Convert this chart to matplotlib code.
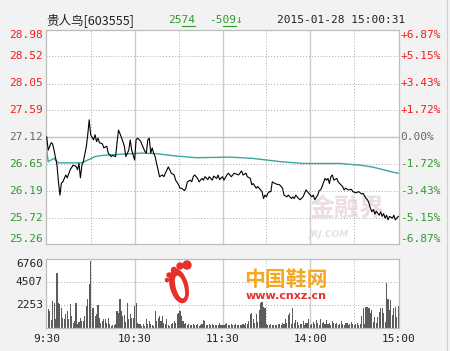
import matplotlib.pyplot as plt
from matplotlib.lines import Line2D
from matplotlib.patches import Ellipse, Circle

# intraday data, minute index 0 = 9:30, 120 = 11:30/13:00, 240 = 15:00
price_t = [0, 1, 3, 4, 5, 7, 8, 9, 10, 11, 13, 14, 16, 18, 20, 21, 22, 23, 24, 25,
           27, 28, 29, 30, 32, 33, 34, 35, 36, 38, 39, 41, 42, 44, 45, 47, 48, 49, 50, 52,
           53, 54, 56, 57, 58, 60, 61, 62, 64, 66, 67, 68, 69, 70, 71, 72, 73, 74, 75, 76,
           77, 79, 80, 81, 83, 84, 85, 87, 88, 90, 91, 92, 94, 95, 96, 98, 99, 100, 101, 103,
           104, 106, 107, 108, 110, 111, 113, 114, 116, 117, 118, 120, 121, 123, 124, 126, 128, 131, 133, 134,
           136, 137, 139, 140, 141, 143, 144, 146, 147, 148, 149, 150, 151, 152, 153, 154, 156, 157, 159, 161,
           162, 164, 165, 167, 168, 169, 170, 172, 173, 175, 177, 178, 180, 181, 182, 183, 185, 186, 187, 188,
           190, 191, 192, 193, 194, 195, 196, 198, 199, 200, 202, 203, 204, 206, 208, 209, 211, 213, 215, 216,
           218, 219, 220, 221, 222, 223, 224, 225, 227, 228, 229, 230, 231, 232, 233, 234, 236, 237, 238, 239,
           240]
price = [27.12, 26.89, 27.02, 27.00, 26.89, 26.63, 26.34, 26.11, 26.32, 26.34, 26.46, 26.41, 26.55, 26.63, 26.61, 26.55, 26.66, 26.41, 26.63, 26.69,
         26.95, 27.16, 27.42, 27.16, 27.07, 27.16, 27.04, 27.10, 27.02, 27.00, 26.93, 26.96, 26.84, 26.78, 26.80, 26.78, 27.02, 27.24, 27.18, 27.04,
         26.96, 26.78, 26.89, 27.07, 26.89, 26.72, 27.07, 27.10, 27.05, 26.93, 26.87, 26.84, 27.07, 27.10, 26.84, 26.93, 26.84, 26.78, 26.66, 26.55,
         26.43, 26.46, 26.43, 26.49, 26.60, 26.55, 26.49, 26.46, 26.37, 26.29, 26.23, 26.23, 26.19, 26.23, 26.34, 26.37, 26.34, 26.43, 26.46, 26.40,
         26.34, 26.40, 26.37, 26.43, 26.38, 26.43, 26.37, 26.44, 26.40, 26.46, 26.38, 26.43, 26.37, 26.46, 26.49, 26.43, 26.49, 26.46, 26.53, 26.46,
         26.49, 26.43, 26.40, 26.29, 26.31, 26.23, 26.26, 26.20, 26.17, 26.05, 26.11, 26.08, 26.14, 26.17, 26.17, 26.34, 26.31, 26.30, 26.29, 26.23,
         26.11, 26.08, 26.11, 26.05, 26.08, 26.05, 26.11, 26.05, 26.03, 26.08, 26.20, 26.17, 26.11, 26.08, 26.11, 26.03, 26.11, 26.19, 26.20, 26.26,
         26.40, 26.37, 26.40, 26.31, 26.43, 26.46, 26.37, 26.40, 26.34, 26.31, 26.26, 26.20, 26.23, 26.20, 26.21, 26.17, 26.15, 26.17, 26.13, 26.14,
         26.05, 26.03, 25.97, 25.88, 25.82, 25.86, 25.78, 25.83, 25.76, 25.82, 25.74, 25.79, 25.71, 25.76, 25.68, 25.74, 25.71, 25.76, 25.68, 25.71,
         25.74]

avg_t = [0, 1, 5, 8, 24, 28, 33, 38, 50, 65, 75, 88, 102, 125, 140, 150, 160, 175, 200, 214, 222, 230, 236, 240]
avg = [26.89, 26.69, 26.75, 26.67, 26.67, 26.72, 26.78, 26.80, 26.82, 26.84, 26.83, 26.79, 26.76, 26.77, 26.75, 26.72,
       26.69, 26.66, 26.66, 26.63, 26.60, 26.55, 26.51, 26.49]

volume = [3790, 1890, 1670, 800, 2650, 2480, 900, 5420, 2480, 2320,
          1990, 1010, 850, 1340, 1670, 850, 2320, 1180, 520, 690,
          2480, 360, 590, 1010, 690, 690, 1180, 2160, 2870, 4280,
          6560, 1990, 1990, 1180, 1340, 2220, 1010, 520, 690, 850,
          850, 520, 1010, 360, 200, 260, 300, 360, 1670, 1500,
          2870, 1670, 1180, 1240, 600, 2420, 850, 1340, 1010, 1010,
          2160, 2480, 460, 360, 360, 200, 360, 200, 850, 360,
          690, 360, 300, 200, 1670, 690, 1010, 1180, 690, 1180,
          520, 360, 850, 300, 200, 360, 500, 690, 520, 1340,
          1500, 1670, 1180, 690, 360, 520, 300, 360, 250, 300,
          420, 260, 300, 350, 240, 300, 380, 780, 690, 300,
          250, 350, 280, 400, 300, 250, 330, 280, 450, 300,
          260, 300, 360, 520, 300, 280, 350, 300, 260, 380,
          300, 250, 330, 280, 420, 300, 450, 360, 690, 1340,
          1500, 850, 520, 1340, 600, 1760, 2420, 2580, 2090, 1990,
          360, 300, 280, 360, 250, 330, 300, 280, 360, 420,
          300, 520, 360, 850, 450, 1270, 1440, 360, 1930, 520,
          780, 620, 300, 420, 380, 690, 300, 520, 450, 850,
          300, 420, 620, 360, 780, 450, 300, 850, 520, 600,
          420, 780, 360, 520, 300, 690, 450, 380, 520, 300,
          420, 690, 360, 300, 520, 450, 300, 380, 600, 360,
          300, 420, 520, 300, 420, 1180, 1930, 360, 2020, 2090,
          1930, 1440, 1760, 600, 1050, 520, 1050, 1600, 1930, 1930,
          1440, 600, 4380, 2810, 1760, 2740, 1270, 1930, 2090, 1050,
          2160]

prev_close = 27.12
price_ticks = [28.98, 28.52, 28.05, 27.59, 27.12, 26.65, 26.19, 25.72, 25.26]
pct_labels = ["+6.87%", "+5.15%", "+3.43%", "+1.72%", "0.00%", "-1.72%", "-3.43%", "-5.15%", "-6.87%"]
vol_ticks = [6760, 4507, 2253]
time_pos = [0, 60, 120, 180, 240]
time_labels = ["9:30", "10:30", "11:30", "14:00", "15:00"]

RED = "#f41c1c"
GREEN = "#2f9a2f"
GRAY = "#666666"
MONO = "DejaVu Sans Mono"

fig = plt.figure(figsize=(4.5, 3.51), dpi=100, facecolor="#f2f2f2")
ax = fig.add_axes([46 / 450, 1 - 244 / 351, 353 / 450, 214 / 351])
axv = fig.add_axes([46 / 450, 1 - 328 / 351, 353 / 450, 69 / 351])

# frames and vertical grid
for a in (ax, axv):
    a.set_facecolor("white")
    a.set_xlim(-0.5, 240.5)
    a.set_xticks([])
    a.set_yticks([])
    for s in a.spines.values():
        s.set_color("#bdbdbd")
        s.set_linewidth(0.9)
    for m in [30, 90, 150, 210]:
        a.axvline(m, color="#aaaaaa", lw=0.7, ls=(0, (1, 2)), zorder=0.6)
    for m in [60, 120, 180]:
        a.axvline(m, color="#cccccc", lw=1.0, zorder=0.6)

### price panel
ax.set_ylim(25.26, 28.98)
for p in price_ticks[1:-1]:
    if p == prev_close:
        ax.axhline(p, color="#c4c4c4", lw=1.0, zorder=0.6)
    else:
        ax.axhline(p, color="#aaaaaa", lw=0.7, ls=(0, (1, 2)), zorder=0.6)

# watermark
ax.text(0.853, 0.165, "金融界", transform=ax.transAxes, ha="center", va="center",
        fontsize=18, fontweight="bold", color="#ecdede", family=["Noto Sans CJK SC"], zorder=0.5)
ax.text(0.80, 0.045, "JRJ.COM", transform=ax.transAxes, ha="center", va="center",
        fontsize=6.5, fontweight="bold", style="italic", color="#e2e2e2", zorder=0.5)

ax.plot(avg_t, avg, color="#3aa6a0", lw=1.0, zorder=2)
ax.plot(price_t, price, color="black", lw=0.8, zorder=3)

for i, p in enumerate(price_ticks):
    if p > prev_close:
        c = RED
    elif p == prev_close:
        c = GRAY
    else:
        c = GREEN
    va = "center"
    if i == 0:
        va = "top"
    elif i == len(price_ticks) - 1:
        va = "bottom"
    ax.text(-0.009, p, f"{p:.2f}", transform=ax.get_yaxis_transform(), ha="right", va=va,
            color=c, fontsize=8, family=MONO)
    ax.text(1.003, p, pct_labels[i], transform=ax.get_yaxis_transform(), ha="left", va=va,
            color=c, fontsize=8, family=MONO)

### volume panel
axv.set_ylim(0, 6760)
for v in vol_ticks[1:]:
    axv.axhline(v, color="#aaaaaa", lw=0.7, ls=(0, (1, 2)), zorder=0.6)

axv.bar(range(len(volume)), volume, width=0.75, color="#5c5c5c", zorder=2)

for i, v in enumerate(vol_ticks):
    axv.text(-0.009, v, str(v), transform=axv.get_yaxis_transform(), ha="right",
             va="top" if i == 0 else "center", color="#222222", fontsize=8, family=MONO)

for m, lab in zip(time_pos, time_labels):
    axv.text(m, -0.16, lab, transform=axv.get_xaxis_transform(), ha="center", va="center",
             color="#222222", fontsize=8, family=MONO)

# cnxz watermark in the volume panel
axv.text(240 / 353, 0.71, "中国鞋网", transform=axv.transAxes, ha="center", va="center",
         fontsize=15, fontweight="bold", color="#f5a623", family=["Noto Sans CJK SC"], zorder=1)
axv.text(240 / 353, 0.46, "www.cnxz.cn", transform=axv.transAxes, ha="center", va="center",
         fontsize=8, fontweight="bold", color="#e8302a", zorder=1)
foot = [Ellipse((1.79, 3.51 - 2.86), 0.17, 0.34, angle=15, color="#e8302a"),
        Ellipse((1.80, 3.51 - 2.87), 0.07, 0.22, angle=15, color="white"),
        Circle((1.87, 3.51 - 2.65), 0.04, color="#e8302a"),
        Circle((1.80, 3.51 - 2.66), 0.03, color="#e8302a"),
        Circle((1.74, 3.51 - 2.70), 0.025, color="#e8302a"),
        Circle((1.69, 3.51 - 2.75), 0.02, color="#e8302a"),
        Circle((1.67, 3.51 - 2.80), 0.016, color="#e8302a")]
for f in foot:
    f.set_transform(fig.dpi_scale_trans)
    fig.add_artist(f)

### header
ty = 1 - 20 / 351
fig.text(46 / 450, ty, "贵人鸟[603555]", ha="left", va="center", fontsize=9,
         family=["Noto Sans CJK SC", "DejaVu Sans"], color="#222222")
fig.text(168 / 450, ty, "2574", ha="left", va="center", fontsize=8, family=MONO, color=GREEN)
fig.text(209 / 450, ty, "-509↓", ha="left", va="center", fontsize=8, family=MONO, color=GREEN)
fig.text(277 / 450, ty, "2015-01-28 15:00:31", ha="left", va="center", fontsize=8, family=MONO,
         color="#222222")
fig.add_artist(Line2D([181.5 / 450, 195 / 450], [1 - 25.5 / 351] * 2, color=GREEN, lw=0.8))
fig.add_artist(Line2D([222.5 / 450, 236 / 450], [1 - 25.5 / 351] * 2, color=GREEN, lw=0.8))
fig.add_artist(Line2D([447 / 450] * 2, [0, 1], color="#d0d0d0", lw=0.8))

fig.savefig("out.png", dpi=100, facecolor=fig.get_facecolor())
